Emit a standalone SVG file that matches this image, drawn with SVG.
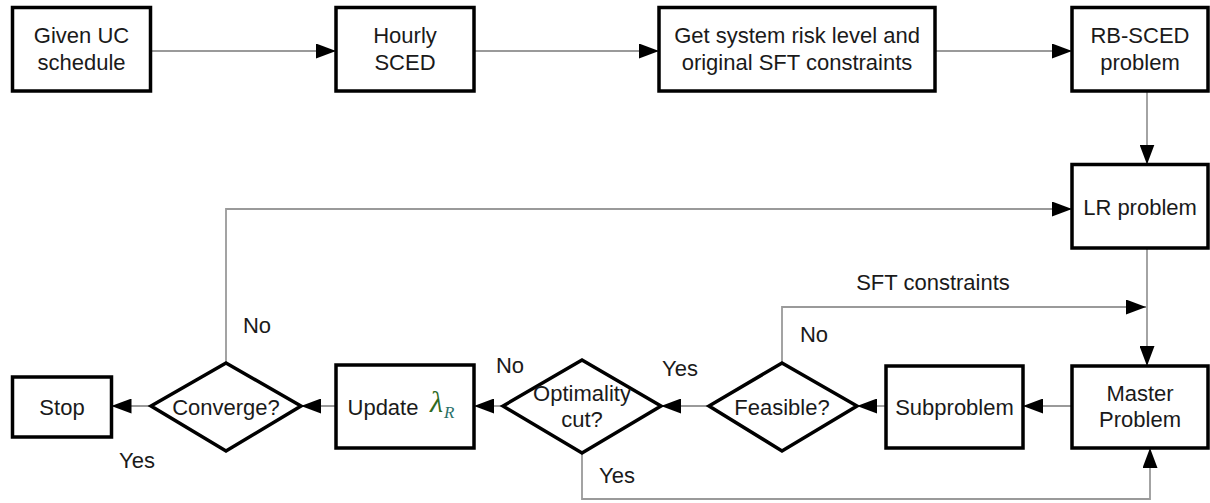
<svg xmlns="http://www.w3.org/2000/svg" width="1210" height="503" viewBox="0 0 1210 503">
  <style>
    .box { fill: #ffffff; stroke: #000000; stroke-width: 3.5; }
    .dia { fill: #ffffff; stroke: #000000; stroke-width: 3.5; stroke-linejoin: miter; }
    .t { font-family: "Liberation Sans", Arial, sans-serif; font-size: 22px; fill: #1a1a1a; text-anchor: middle; }
    .lbl { font-family: "Liberation Sans", Arial, sans-serif; font-size: 22px; fill: #1a1a1a; text-anchor: middle; }
    .c { fill: none; stroke: #9a9a9a; stroke-width: 1.8; }
  </style>
  <defs>
    <marker id="ah" markerUnits="userSpaceOnUse" markerWidth="20" markerHeight="15" refX="20" refY="7.5" orient="auto">
      <path d="M0,0 L20,7.5 L0,15 Z" fill="#000000"/>
    </marker>
  </defs>
  <rect width="1210" height="503" fill="#ffffff"/>

  <g id="connectors">
    <path class="c" d="M150.5,51 L336,51" marker-end="url(#ah)"/>
    <path class="c" d="M474,51 L659,51" marker-end="url(#ah)"/>
    <path class="c" d="M935,51 L1072,51" marker-end="url(#ah)"/>
    <path class="c" d="M1147,91 L1147,164.5" marker-end="url(#ah)"/>
    <path class="c" d="M226,363 L226,209 L1072,209" marker-end="url(#ah)"/>
    <path class="c" d="M1147,248 L1147,366" marker-end="url(#ah)"/>
    <path class="c" d="M782,363 L782,307 L1146,307" marker-end="url(#ah)"/>
    <path class="c" d="M1072,406 L1023,406" marker-end="url(#ah)"/>
    <path class="c" d="M886,406 L857,406" marker-end="url(#ah)"/>
    <path class="c" d="M709,406 L661,406" marker-end="url(#ah)"/>
    <path class="c" d="M503,406 L474,406" marker-end="url(#ah)"/>
    <path class="c" d="M336,406 L301,406" marker-end="url(#ah)"/>
    <path class="c" d="M151,406 L111.5,406" marker-end="url(#ah)"/>
    <path class="c" d="M582,453 L582,499 L1150,499 L1150,448" marker-end="url(#ah)"/>
  </g>

  <g id="labels">
    <text class="lbl" x="933" y="290">SFT constraints</text>
    <text class="lbl" x="257" y="333">No</text>
    <text class="lbl" x="814" y="342">No</text>
    <text class="lbl" x="510" y="373">No</text>
    <text class="lbl" x="680" y="376">Yes</text>
    <text class="lbl" x="137" y="468">Yes</text>
    <text class="lbl" x="617" y="483">Yes</text>
  </g>

  <g id="given-uc">
    <rect class="box" x="12.5" y="7.5" width="138" height="83.5"/>
    <text class="t" x="81.5" y="43">Given UC</text>
    <text class="t" x="81.5" y="70">schedule</text>
  </g>
  <g id="hourly-sced">
    <rect class="box" x="336" y="7.5" width="138" height="83.5"/>
    <text class="t" x="405" y="43">Hourly</text>
    <text class="t" x="405" y="70">SCED</text>
  </g>
  <g id="get-risk">
    <rect class="box" x="659" y="7.5" width="276" height="83.5"/>
    <text class="t" x="797" y="43">Get system risk level and</text>
    <text class="t" x="797" y="70">original SFT constraints</text>
  </g>
  <g id="rb-sced">
    <rect class="box" x="1072" y="7.5" width="136" height="83.5"/>
    <text class="t" x="1140" y="43">RB-SCED</text>
    <text class="t" x="1140" y="70">problem</text>
  </g>
  <g id="lr-problem">
    <rect class="box" x="1072" y="164.5" width="136" height="83.5"/>
    <text class="t" x="1140" y="215">LR problem</text>
  </g>
  <g id="master">
    <rect class="box" x="1072" y="366" width="136" height="82"/>
    <text class="t" x="1140" y="401">Master</text>
    <text class="t" x="1140" y="427">Problem</text>
  </g>
  <g id="subproblem">
    <rect class="box" x="886" y="366" width="137" height="82"/>
    <text class="t" x="954.5" y="415">Subproblem</text>
  </g>
  <g id="feasible">
    <polygon class="dia" points="782,363 857,406 782,451 709,406"/>
    <text class="t" x="782" y="415">Feasible?</text>
  </g>
  <g id="optimality">
    <polygon class="dia" points="582,360 661,406 582,453 503,406"/>
    <text class="t" x="582" y="401">Optimality</text>
    <text class="t" x="582" y="427">cut?</text>
  </g>
  <g id="update">
    <rect class="box" x="336" y="365" width="138" height="83"/>
    <text class="t" x="383" y="415">Update</text>
    <text x="430" y="412" font-family="Liberation Serif, 'Times New Roman', serif" font-style="italic" font-size="30" fill="#2f6b1e">λ</text>
    <text x="444" y="418" font-family="Liberation Serif, 'Times New Roman', serif" font-style="italic" font-size="17" fill="#2a7068">R</text>
  </g>
  <g id="converge">
    <polygon class="dia" points="226,363 301,406 226,451 151,406"/>
    <text class="t" x="226" y="415">Converge?</text>
  </g>
  <g id="stop">
    <rect class="box" x="12.5" y="377" width="99" height="60"/>
    <text class="t" x="62" y="415">Stop</text>
  </g>
</svg>
